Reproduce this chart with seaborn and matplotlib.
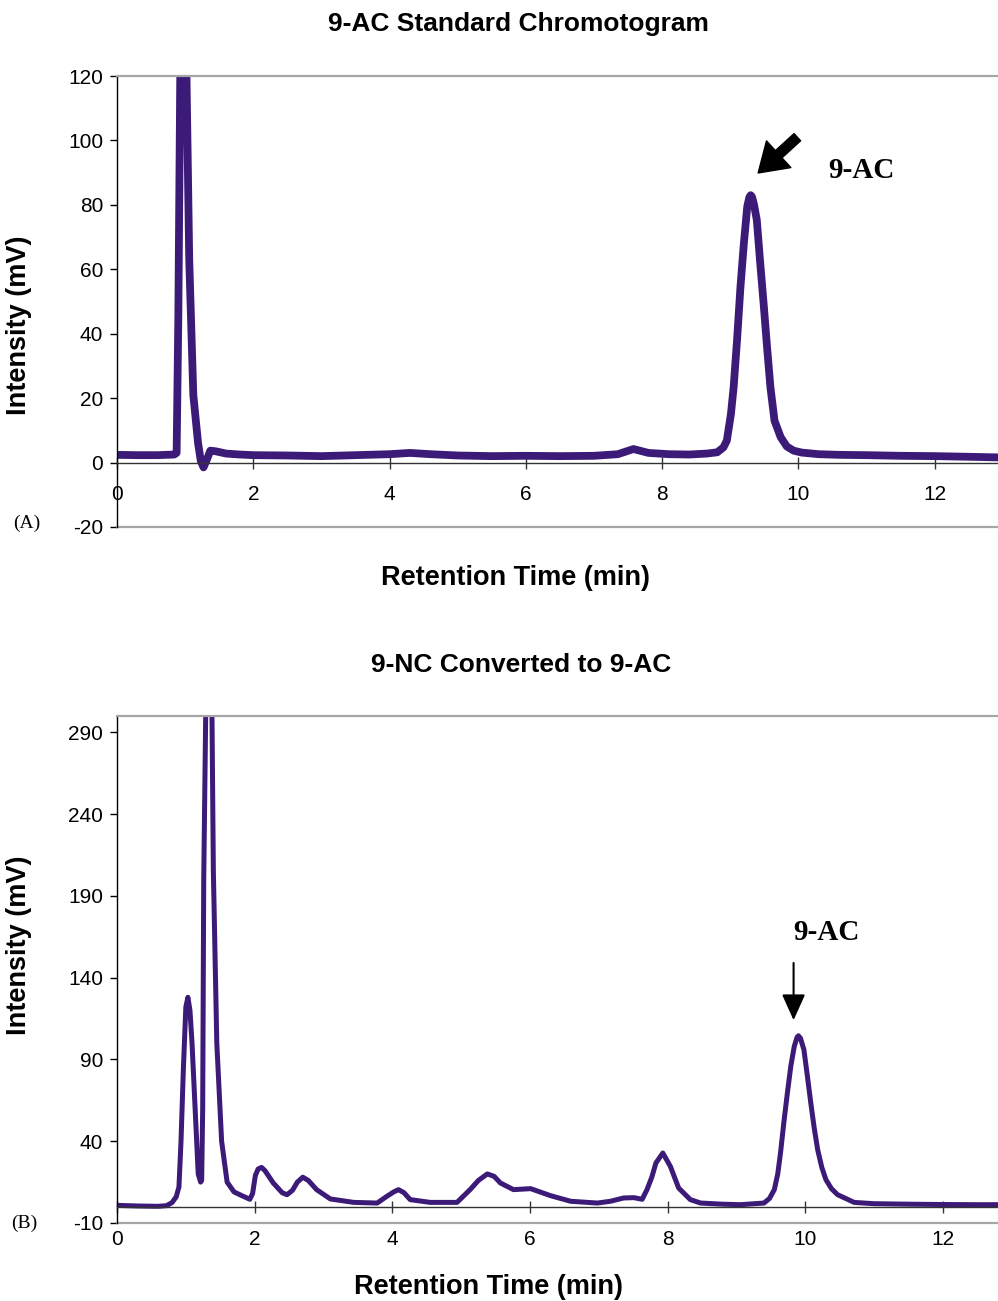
import matplotlib
matplotlib.use("Agg")
import matplotlib.pyplot as plt
import seaborn as sns
import pandas as pd

# --- Chromatogram traces (retention time in min, detector signal in mV) ---
std_time = [0.0, 0.3, 0.6, 0.84, 0.875, 0.90, 0.93, 0.975, 1.02, 1.06, 1.12,
            1.19, 1.23, 1.27, 1.32, 1.37, 1.45, 1.6, 1.8, 2.0, 2.5, 3.0,
            3.5, 4.0, 4.3, 4.6, 5.0, 5.5, 6.0, 6.5, 7.0, 7.35, 7.58, 7.8,
            8.1, 8.4, 8.66, 8.81, 8.90, 8.95, 9.01, 9.05, 9.10, 9.15, 9.20,
            9.25, 9.28, 9.30, 9.32, 9.35, 9.39, 9.44, 9.49, 9.54, 9.59,
            9.65, 9.74, 9.83, 9.93, 10.05, 10.3, 10.6, 11.0, 11.5, 12.0,
            12.5, 12.95]
std_signal = [2.4, 2.3, 2.3, 2.5, 3.0, 45, 125, 145, 120, 63, 21,
              6, 0.5, -1.5, 1.0, 3.7, 3.5, 2.8, 2.5, 2.3, 2.2, 2.0,
              2.3, 2.6, 3.0, 2.6, 2.2, 2.0, 2.1, 2.0, 2.1, 2.6, 4.2, 3.0,
              2.6, 2.5, 2.8, 3.2, 4.7, 6.8, 15, 23.4, 38, 54.5, 68,
              79.5, 82.3, 83, 82.5, 80, 75.3, 62, 49.4, 36, 23.4,
              13, 7.9, 5.0, 3.7, 3.1, 2.6, 2.4, 2.3, 2.1, 2.0,
              1.8, 1.6]

conv_time = [0.0, 0.3, 0.6, 0.72, 0.80, 0.86, 0.90, 0.93, 0.965, 1.0, 1.03,
             1.06, 1.09, 1.135, 1.18, 1.215, 1.23, 1.245, 1.26, 1.30, 1.34,
             1.38, 1.40, 1.45, 1.52, 1.60, 1.70, 1.80, 1.93, 1.97, 2.01,
             2.05, 2.10, 2.15, 2.27, 2.40, 2.47, 2.55, 2.62, 2.70, 2.78,
             2.90, 3.10, 3.44, 3.78, 3.92, 4.02, 4.09, 4.17, 4.26, 4.55,
             4.94, 5.13, 5.25, 5.38, 5.48, 5.57, 5.76, 6.01, 6.30, 6.59,
             6.98, 7.17, 7.36, 7.51, 7.63, 7.70, 7.77, 7.83, 7.93, 8.04,
             8.16, 8.33, 8.48, 8.80, 9.06, 9.40, 9.48, 9.55, 9.60, 9.64,
             9.69, 9.74, 9.79, 9.84, 9.88, 9.90, 9.93, 9.98, 10.03, 10.08,
             10.13, 10.18, 10.24, 10.30, 10.38, 10.47, 10.71, 11.0, 11.5,
             12.0, 12.5, 12.85]
conv_signal = [0.8, 0.4, 0.2, 0.6, 2.5, 6, 12, 40, 85, 122, 128,
               120, 100, 60, 20, 15, 16, 60, 200, 340, 350,
               300, 205, 100, 40, 15, 9, 7, 4.5, 8, 19,
               23, 24, 22, 14.5, 8.5, 7.3, 10, 15, 18, 16,
               10.4, 4.7, 2.6, 2.2, 6.3, 9, 10.4, 8.5, 4.3, 2.6,
               2.6, 10.4, 16, 20, 18.5, 14.5, 10.4, 11, 6.7, 3.3,
               2.2, 3.3, 5.3, 5.5, 4.5, 10.4, 18, 26.7, 32.8, 24.6,
               11.4, 4.3, 2.2, 1.5, 1.2, 2.2, 5, 10.4, 20, 32.8,
               52, 69.5, 86, 98, 103.5, 104.5, 103, 96, 80, 63.4,
               48, 34.8, 24, 16.5, 11, 7.3, 2.6, 1.8, 1.5,
               1.3, 1.2, 1.2]

std_yticks = [-20, 0, 20, 40, 60, 80, 100, 120]
conv_yticks = [-10, 40, 90, 140, 190, 240, 290]
xticks = [0, 2, 4, 6, 8, 10, 12]

peak_label = "9-AC"
titles = ["9-AC Standard Chromotogram", "9-NC Converted to 9-AC"]
panel_tags = ["(A)", "(B)"]

# --- Styling ---
sns.set_theme(style="white")
plt.rcParams["font.family"] = ["Liberation Sans", "DejaVu Sans"]
plt.rcParams["axes.unicode_minus"] = False
for key in ("text.color", "axes.labelcolor", "xtick.color", "ytick.color"):
    plt.rcParams[key] = "black"
TRACE = "#3c1a78"
FRAME_GREY = "#a6a6a6"
W, H = 998, 1301

fig = plt.figure(figsize=(W / 100, H / 100), dpi=100)


def px_rect(left, top, right, bottom):
    return [left / W, 1 - bottom / H, (right - left) / W, (bottom - top) / H]


ax1 = fig.add_axes(px_rect(117, 76, 998, 527))
ax2 = fig.add_axes(px_rect(117, 716, 998, 1223))


def style_axes(ax, ylim, yticks, xmax):
    ax.set_xlim(0, xmax)
    ax.set_ylim(*ylim)
    ax.set_xticks(xticks)
    ax.set_yticks(yticks)
    ax.spines["right"].set_visible(False)
    ax.spines["top"].set_color(FRAME_GREY)
    ax.spines["top"].set_linewidth(1.6)
    ax.spines["left"].set_color("black")
    ax.spines["left"].set_linewidth(1.0)
    # category axis crosses at zero signal
    ax.spines["bottom"].set_position(("data", 0))
    ax.spines["bottom"].set_color("#333333")
    ax.spines["bottom"].set_linewidth(1.0)
    ax.axhline(ylim[0], color=FRAME_GREY, lw=1.6, clip_on=False, zorder=1)
    ax.tick_params(axis="x", direction="inout", length=9, width=1,
                   color="#333333", pad=12, labelsize=15, bottom=True)
    ax.tick_params(axis="y", direction="out", length=5, width=1,
                   color="black", pad=5, labelsize=15, left=True)
    ax.grid(False)


# Panel A: standard
df1 = pd.DataFrame({"time": std_time, "signal": std_signal})
sns.lineplot(data=df1, x="time", y="signal", ax=ax1, color=TRACE,
             linewidth=5.6, estimator=None, sort=False)
style_axes(ax1, (-20, 120), std_yticks, 12.93)

# Panel B: converted sample
df2 = pd.DataFrame({"time": conv_time, "signal": conv_signal})
sns.lineplot(data=df2, x="time", y="signal", ax=ax2, color=TRACE,
             linewidth=3.6, estimator=None, sort=False)
style_axes(ax2, (-10, 300), conv_yticks, 12.8)

for ax in (ax1, ax2):
    for ln in ax.get_lines():
        ln.set_solid_joinstyle("round")
        ln.set_solid_capstyle("round")

label_font = dict(fontsize=19.5, fontweight="bold")
ax1.set_xlabel("Retention Time (min)", **label_font)
ax1.set_ylabel("Intensity (mV)", **label_font)
ax2.set_xlabel("Retention Time (min)", **label_font)
ax2.set_ylabel("Intensity (mV)", **label_font)
for ax, xl, yl in ((ax1, (0.452, -0.113), (-0.111, 0.448)),
                   (ax2, (0.422, -0.126), (-0.111, 0.548))):
    ax.xaxis.set_label_coords(*xl)
    ax.yaxis.set_label_coords(*yl)
    ax.xaxis.label.set_va("center")
    ax.yaxis.label.set_va("center")

fig.text(518 / W, 1 - 24 / H, titles[0], ha="center", va="center",
         fontsize=19, fontweight="bold")
fig.text(521 / W, 1 - 665 / H, titles[1], ha="center", va="center",
         fontsize=19, fontweight="bold")

serif = ["Liberation Serif", "DejaVu Serif"]
fig.text(27 / W, 1 - 523 / H, panel_tags[0], ha="center", va="center",
         fontsize=14, family=serif)
fig.text(24 / W, 1 - 1223 / H, panel_tags[1], ha="center", va="center",
         fontsize=14, family=serif)

# Peak annotations
ax1.annotate("", xy=(9.41, 89.9), xytext=(9.985, 101),
             arrowprops=dict(arrowstyle="simple,head_length=1.0,head_width=1.3,tail_width=0.35",
                             fc="black", ec="black", mutation_scale=20,
                             shrinkA=0, shrinkB=0))
ax1.text(10.93, 90.8, peak_label, ha="center", va="center", fontsize=21,
         fontweight="bold", family=serif)

ax2.annotate("", xy=(9.83, 114), xytext=(9.83, 149),
             arrowprops=dict(arrowstyle="-|>,head_length=0.8,head_width=0.36",
                             fc="black", ec="black", lw=1.5, mutation_scale=20,
                             shrinkA=0, shrinkB=0))
ax2.text(10.31, 167.5, peak_label, ha="center", va="center", fontsize=21,
         fontweight="bold", family=serif)

fig.savefig("out.png", dpi=100)
